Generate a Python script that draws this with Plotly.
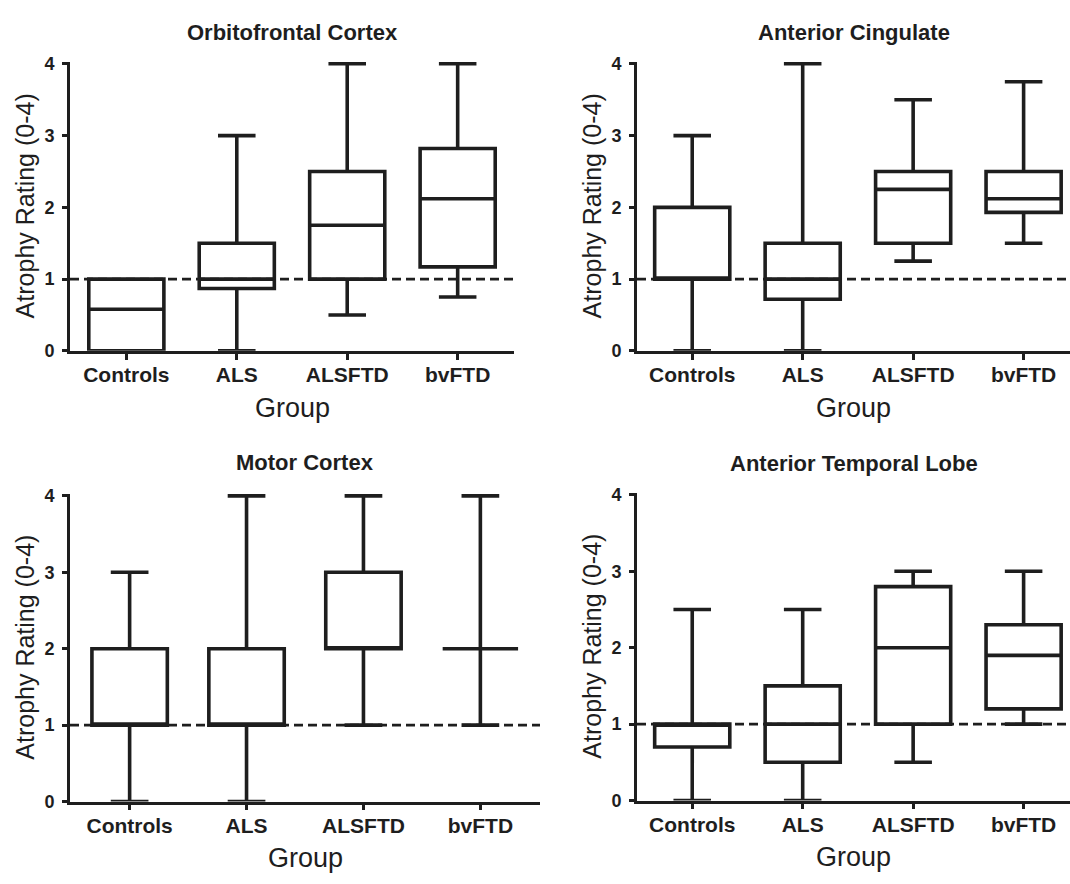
import plotly.graph_objects as go

# ---------------- data ----------------
GROUPS = ["Controls", "ALS", "ALSFTD", "bvFTD"]
Y_TICKS = [0, 1, 2, 3, 4]
REF_LINE = 1

PANEL_TITLES = ["Orbitofrontal Cortex", "Anterior Cingulate", "Motor Cortex", "Anterior Temporal Lobe"]

OFC_LOW = [0.0, 0.0, 0.5, 0.75]
OFC_Q1 = [0.0, 0.87, 1.0, 1.17]
OFC_MED = [0.58, 1.0, 1.75, 2.12]
OFC_Q3 = [1.0, 1.5, 2.5, 2.82]
OFC_HIGH = [1.0, 3.0, 4.0, 4.0]

ACC_LOW = [0.0, 0.0, 1.25, 1.5]
ACC_Q1 = [1.0, 0.72, 1.5, 1.93]
ACC_MED = [1.0, 1.0, 2.25, 2.12]
ACC_Q3 = [2.0, 1.5, 2.5, 2.5]
ACC_HIGH = [3.0, 4.0, 3.5, 3.75]

MC_LOW = [0.0, 0.0, 1.0, 1.0]
MC_Q1 = [1.0, 1.0, 2.0, 2.0]
MC_MED = [1.0, 1.0, 2.0, 2.0]
MC_Q3 = [2.0, 2.0, 3.0, 2.0]
MC_HIGH = [3.0, 4.0, 4.0, 4.0]

ATL_LOW = [0.0, 0.0, 0.5, 1.0]
ATL_Q1 = [0.7, 0.5, 1.0, 1.2]
ATL_MED = [1.0, 1.0, 2.0, 1.9]
ATL_Q3 = [1.0, 1.5, 2.8, 2.3]
ATL_HIGH = [2.5, 2.5, 3.0, 3.0]

# ---------------- layout geometry (pixels) ----------------
W, H = 1070, 884
INK = "#1e1e1e"
FONT = "Liberation Sans, Arial, sans-serif"

# (x_left, x_right, y_top, y_bottom) of each plot area, in px
PANELS = [
    (70, 514, 55, 350),
    (637, 1070, 55, 350),
    (70, 540, 496, 810),
    (637, 1070, 495, 809),
]
X_RANGES = [(-0.51, 3.51), (-0.5, 3.42), (-0.51, 3.51), (-0.5, 3.42)]
Y_TOPS = [4.027, 4.027, 4.026, 4.026]
BOX_W = [0.68, 0.68, 0.645, 0.68]
TITLE_Y = [25, 25, 464, 465]

panel_data = [
    (OFC_LOW, OFC_Q1, OFC_MED, OFC_Q3, OFC_HIGH),
    (ACC_LOW, ACC_Q1, ACC_MED, ACC_Q3, ACC_HIGH),
    (MC_LOW, MC_Q1, MC_MED, MC_Q3, MC_HIGH),
    (ATL_LOW, ATL_Q1, ATL_MED, ATL_Q3, ATL_HIGH),
]

fig = go.Figure()
layout = dict(
    width=W, height=H,
    margin=dict(l=0, r=0, t=0, b=0),
    paper_bgcolor="white", plot_bgcolor="white",
    showlegend=False,
    font=dict(family=FONT, color=INK),
)
annotations = []
shapes = []

for i, ((xl, xr, yt, yb), (lo, q1, med, q3, hi)) in enumerate(zip(PANELS, panel_data)):
    n = i + 1
    xa = "x" if n == 1 else f"x{n}"
    ya = "y" if n == 1 else f"y{n}"
    xkey = "xaxis" if n == 1 else f"xaxis{n}"
    ykey = "yaxis" if n == 1 else f"yaxis{n}"

    fig.add_trace(go.Box(
        x=GROUPS, lowerfence=lo, q1=q1, median=med, q3=q3, upperfence=hi,
        xaxis=xa, yaxis=ya,
        width=BOX_W[i], whiskerwidth=0.5,
        line=dict(color=INK, width=3.6),
        fillcolor="rgba(255,255,255,0)",
        boxpoints=False, hoverinfo="skip",
    ))

    layout[xkey] = dict(
        domain=[xl / W, xr / W], anchor=ya,
        type="category", range=list(X_RANGES[i]),
        showline=True, linecolor=INK, linewidth=2.6,
        ticks="outside", ticklen=6, tickwidth=2.6, tickcolor=INK,
        showgrid=False, zeroline=False,
        tickfont=dict(family=FONT, size=21, color=INK, weight="bold"),
        ticklabelstandoff=-3,
        fixedrange=True,
    )
    layout[ykey] = dict(
        domain=[1 - yb / H, 1 - yt / H], anchor=xa,
        range=[0, Y_TOPS[i]],
        tickvals=Y_TICKS,
        showline=True, linecolor=INK, linewidth=2.6,
        ticks="outside", ticklen=5, tickwidth=2.6, tickcolor=INK,
        showgrid=False, zeroline=False,
        tickfont=dict(family=FONT, size=18, color=INK, weight="bold"),
        ticklabelstandoff=4,
        fixedrange=True,
    )

    # reference dashed line
    shapes.append(dict(
        type="line", xref=f"{xa} domain", yref=ya,
        x0=0, x1=1, y0=REF_LINE, y1=REF_LINE,
        line=dict(color=INK, width=2.8, dash="9px,5px"),
        layer="below",
    ))

    xc = (xl + xr) / 2
    # panel title
    annotations.append(dict(
        text=f"<b>{PANEL_TITLES[i]}</b>", xref="paper", yref="paper",
        x=xc / W, y=1 - TITLE_Y[i] / H,
        xanchor="center", yanchor="middle", showarrow=False,
        font=dict(family=FONT, size=22, color=INK),
    ))
    # x title
    annotations.append(dict(
        text="Group", xref="paper", yref="paper",
        x=xc / W, y=1 - (yb + 58) / H,
        xanchor="center", yanchor="middle", showarrow=False,
        font=dict(family=FONT, size=27, color=INK),
    ))
    # y title
    annotations.append(dict(
        text="Atrophy Rating (0-4)", xref="paper", yref="paper",
        x=(xl - 45) / W, y=1 - ((yt + yb) / 2) / H,
        xanchor="center", yanchor="middle", showarrow=False, textangle=-90,
        font=dict(family=FONT, size=25, color=INK),
    ))

layout["annotations"] = annotations
layout["shapes"] = shapes
fig.update_layout(**layout)

fig.write_html(
    "out.html",
    config={"displayModeBar": False},
    post_script="document.body.style.margin='0px';document.body.style.padding='0px';",
)
